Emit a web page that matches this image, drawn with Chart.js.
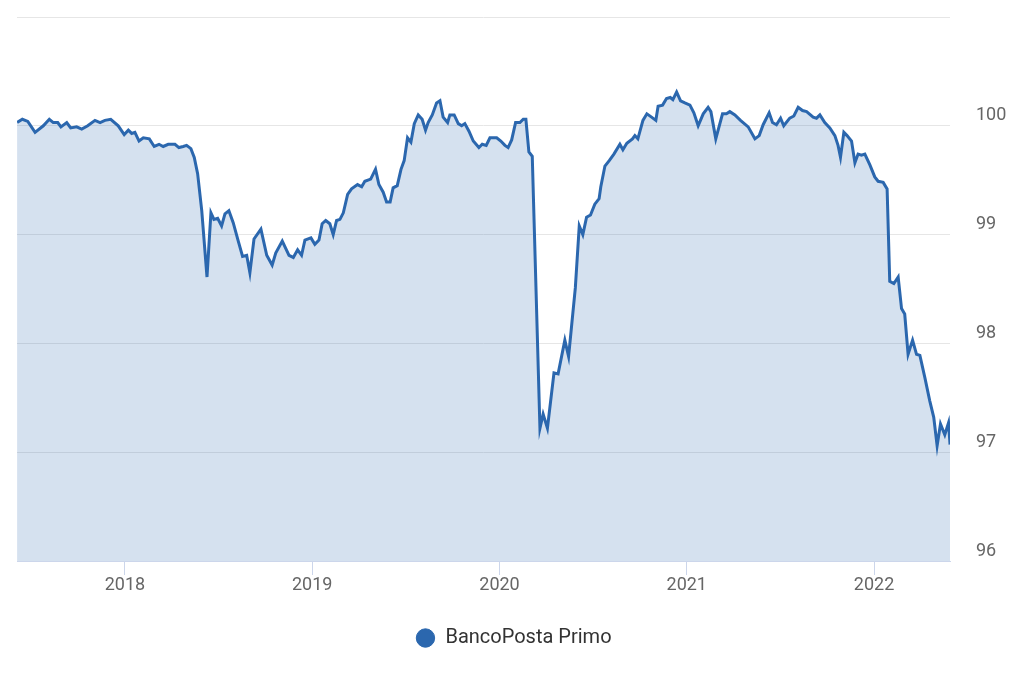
<!DOCTYPE html>
<html>
<head>
<meta charset="utf-8">
<script src="https://cdn.jsdelivr.net/npm/chart.js@4/dist/chart.umd.min.js"></script>
<style>
  html, body { margin: 0; padding: 0; background: #fff; }
  #wrap { width: 1024px; height: 683px; }
</style>
</head>
<body>
<div id="wrap"><canvas id="priceChart"></canvas></div>
<script>
// BancoPosta Primo - weekly price
const dates = [
  2017.424, 2017.452, 2017.481, 2017.520, 2017.564, 2017.596, 2017.617, 2017.641, 2017.658, 2017.689,
  2017.710, 2017.742, 2017.769, 2017.801, 2017.840, 2017.867, 2017.893, 2017.924, 2017.964, 2017.996,
  2018.018, 2018.036, 2018.053, 2018.075, 2018.098, 2018.130, 2018.156, 2018.182, 2018.204, 2018.231,
  2018.267, 2018.288, 2018.311, 2018.329, 2018.352, 2018.370, 2018.388, 2018.410, 2018.438, 2018.459,
  2018.475, 2018.495, 2018.516, 2018.534, 2018.555, 2018.578, 2018.605, 2018.628, 2018.650, 2018.667,
  2018.689, 2018.726, 2018.757, 2018.786, 2018.805, 2018.840, 2018.876, 2018.899, 2018.922, 2018.943,
  2018.961, 2018.993, 2019.014, 2019.036, 2019.053, 2019.072, 2019.094, 2019.112, 2019.130, 2019.148,
  2019.166, 2019.189, 2019.210, 2019.242, 2019.264, 2019.281, 2019.312, 2019.338, 2019.356, 2019.379,
  2019.397, 2019.416, 2019.432, 2019.454, 2019.474, 2019.491, 2019.509, 2019.527, 2019.545, 2019.566,
  2019.587, 2019.605, 2019.619, 2019.641, 2019.664, 2019.682, 2019.699, 2019.723, 2019.735, 2019.758,
  2019.780, 2019.798, 2019.815, 2019.837, 2019.860, 2019.890, 2019.908, 2019.929, 2019.949, 2019.985,
  2020.007, 2020.029, 2020.046, 2020.065, 2020.086, 2020.109, 2020.127, 2020.141, 2020.157, 2020.175,
  2020.216, 2020.233, 2020.256, 2020.291, 2020.313, 2020.349, 2020.369, 2020.405, 2020.426, 2020.445,
  2020.465, 2020.486, 2020.509, 2020.532, 2020.541, 2020.563, 2020.586, 2020.611, 2020.643, 2020.659,
  2020.680, 2020.710, 2020.723, 2020.739, 2020.766, 2020.787, 2020.812, 2020.835, 2020.847, 2020.871,
  2020.892, 2020.912, 2020.926, 2020.946, 2020.967, 2020.990, 2021.017, 2021.038, 2021.061, 2021.088,
  2021.114, 2021.129, 2021.155, 2021.191, 2021.212, 2021.230, 2021.257, 2021.287, 2021.328, 2021.364,
  2021.387, 2021.408, 2021.440, 2021.458, 2021.479, 2021.501, 2021.518, 2021.550, 2021.572, 2021.595,
  2021.618, 2021.640, 2021.675, 2021.693, 2021.711, 2021.737, 2021.764, 2021.791, 2021.808, 2021.821,
  2021.839, 2021.856, 2021.880, 2021.898, 2021.915, 2021.933, 2021.951, 2021.978, 2022.004, 2022.022,
  2022.049, 2022.070, 2022.084, 2022.106, 2022.129, 2022.147, 2022.164, 2022.182, 2022.206, 2022.227,
  2022.245, 2022.271, 2022.298, 2022.319, 2022.337, 2022.355, 2022.378, 2022.398, 2022.406
];

const prices = [
  100.03, 100.06, 100.04, 99.94, 100.00, 100.06, 100.03, 100.03, 99.99, 100.03,
  99.98, 99.99, 99.97, 100.00, 100.05, 100.03, 100.05, 100.06, 100.00, 99.92,
  99.96, 99.93, 99.94, 99.86, 99.89, 99.88, 99.81, 99.83, 99.81, 99.83,
  99.83, 99.80, 99.81, 99.82, 99.79, 99.71, 99.56, 99.22, 98.61, 99.20,
  99.14, 99.15, 99.08, 99.19, 99.22, 99.11, 98.94, 98.80, 98.81, 98.65,
  98.96, 99.05, 98.81, 98.72, 98.83, 98.94, 98.81, 98.79, 98.86, 98.81,
  98.95, 98.97, 98.91, 98.95, 99.10, 99.13, 99.10, 99.00, 99.13, 99.14,
  99.20, 99.37, 99.42, 99.46, 99.44, 99.49, 99.51, 99.60, 99.46, 99.39,
  99.30, 99.30, 99.43, 99.45, 99.60, 99.68, 99.89, 99.85, 100.02, 100.10,
  100.06, 99.96, 100.03, 100.10, 100.21, 100.23, 100.08, 100.03, 100.10, 100.10,
  100.02, 100.00, 100.02, 99.95, 99.86, 99.80, 99.83, 99.82, 99.89, 99.89,
  99.86, 99.82, 99.80, 99.87, 100.03, 100.03, 100.06, 100.06, 99.76, 99.72,
  97.22, 97.35, 97.22, 97.73, 97.72, 98.03, 97.88, 98.51, 99.08, 99.00,
  99.16, 99.18, 99.28, 99.33, 99.44, 99.63, 99.68, 99.74, 99.83, 99.78,
  99.84, 99.88, 99.91, 99.88, 100.05, 100.11, 100.08, 100.05, 100.18, 100.19,
  100.25, 100.26, 100.24, 100.31, 100.23, 100.21, 100.19, 100.12, 100.00, 100.11,
  100.17, 100.13, 99.88, 100.11, 100.11, 100.13, 100.10, 100.05, 99.99, 99.88,
  99.91, 100.01, 100.12, 100.03, 100.01, 100.07, 100.00, 100.07, 100.09, 100.17,
  100.14, 100.13, 100.08, 100.07, 100.10, 100.03, 99.98, 99.91, 99.82, 99.71,
  99.94, 99.91, 99.86, 99.66, 99.74, 99.73, 99.74, 99.64, 99.53, 99.49,
  99.48, 99.42, 98.57, 98.55, 98.61, 98.32, 98.27, 97.90, 98.03, 97.90,
  97.89, 97.69, 97.47, 97.32, 97.06, 97.26, 97.16, 97.27, 97.07
];

const yTicks = [96, 97, 98, 99, 100, 101];
const xRange = [2017.4234, 2022.4058];

const lineColor = '#2b67ae';

// nudge the legend so it sits centred under the whole canvas like the original
const legendNudge = {
  id: 'legendNudge',
  afterUpdate(chart) {
    const lg = chart.legend;
    if (!lg) return;
    lg.left -= 7; lg.right -= 7;
    lg.top += 2; lg.bottom += 2;
  }
};

new Chart(document.getElementById('priceChart'), {
  type: 'line',
  data: {
    datasets: [{
      label: 'BancoPosta Primo',
      data: dates.map((d, i) => ({ x: d, y: prices[i] })),
      borderColor: lineColor,
      backgroundColor: 'rgba(43, 103, 174, 0.2)',
      fill: 'start',
      borderWidth: 3,
      tension: 0,
      pointRadius: 0,
      pointHoverRadius: 0
    }]
  },
  plugins: [legendNudge],
  options: {
    responsive: true,
    maintainAspectRatio: false,
    animation: false,
    layout: { padding: { top: 17, left: 17, right: 0, bottom: 27 } },
    plugins: {
      tooltip: { enabled: false },
      legend: {
        position: 'bottom',
        labels: {
          usePointStyle: true,
          pointStyle: 'circle',
          boxWidth: 20,
          boxHeight: 13,
          padding: 29,
          color: '#333333',
          font: { family: 'Roboto', size: 20 },
          generateLabels: chart => {
            const items = Chart.defaults.plugins.legend.labels.generateLabels(chart);
            items.forEach(it => { it.fillStyle = lineColor; it.strokeStyle = lineColor; it.lineWidth = 1; });
            return items;
          }
        }
      }
    },
    scales: {
      x: {
        type: 'linear',
        min: xRange[0],
        max: xRange[1],
        afterFit: scale => { scale.height = 36; scale.paddingLeft = 0; scale.paddingRight = 0; },
        border: { display: true, color: '#ccd6eb', width: 1 },
        grid: {
          drawOnChartArea: false,
          drawTicks: true,
          tickLength: 14,
          tickColor: '#ccd6eb'
        },
        ticks: {
          stepSize: 1,
          includeBounds: false,
          padding: 0,
          maxRotation: 0,
          color: '#666666',
          font: { family: 'Roboto', size: 18 },
          callback: v => Number.isInteger(v) ? String(v) : ''
        }
      },
      y: {
        position: 'right',
        min: yTicks[0],
        max: yTicks[yTicks.length - 1],
        afterFit: scale => { scale.width = 74; scale.paddingTop = 0; scale.paddingBottom = 0; },
        afterBuildTicks: scale => { scale.ticks = yTicks.map(v => ({ value: v })); },
        border: { display: false },
        grid: { color: '#e6e6e6', drawTicks: false },
        ticks: {
          padding: 26,
          labelOffset: -10,
          color: '#666666',
          font: { family: 'Roboto', size: 18 },
          callback: v => v === 101 ? '' : String(v)
        }
      }
    }
  }
});
</script>
</body>
</html>
